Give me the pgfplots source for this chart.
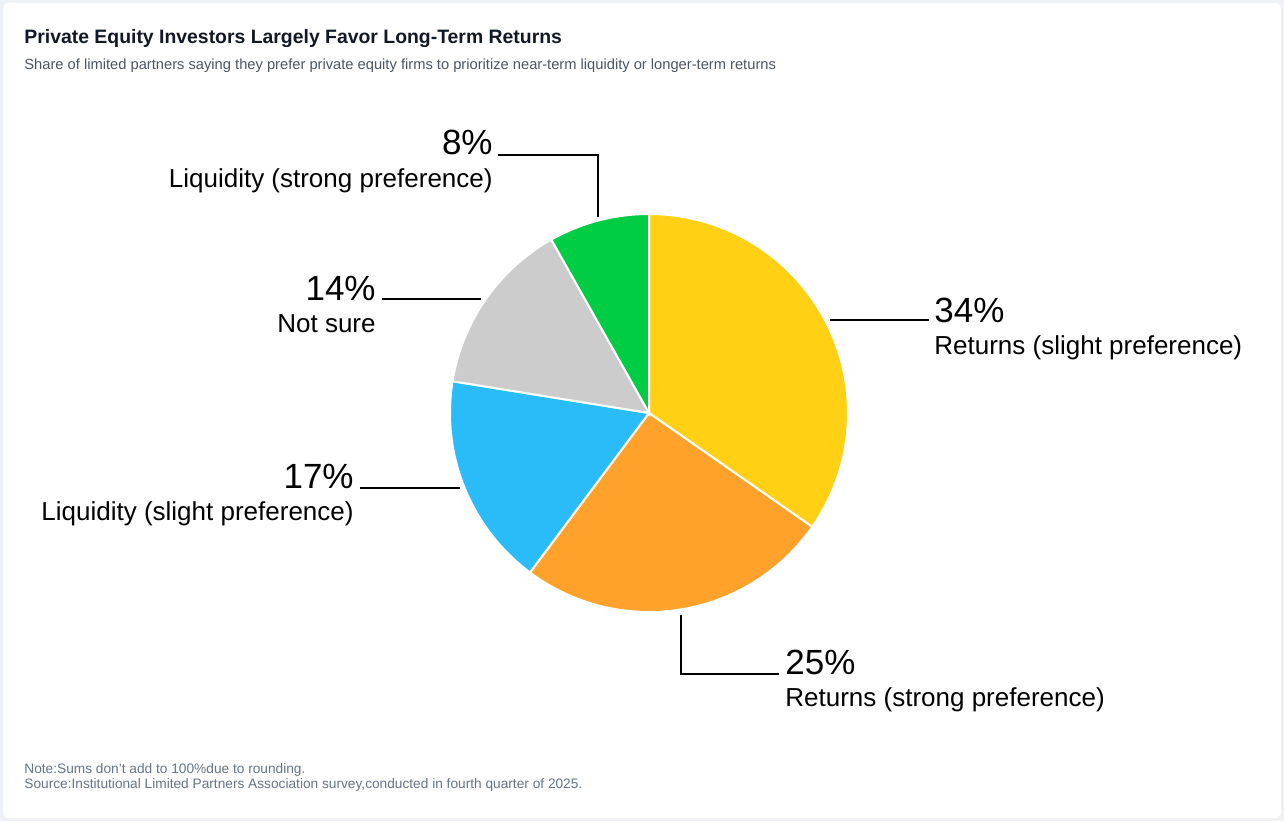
\documentclass[border=0pt]{standalone}
\usepackage{pgfplots}
\pgfplotsset{compat=1.18}
\usepackage{fontspec}
\setmainfont{Liberation Sans}
\definecolor{pieyellow}{HTML}{FFD013}
\definecolor{pieorange}{HTML}{FFA22B}
\definecolor{pieblue}{HTML}{29BCF8}
\definecolor{piegray}{HTML}{CCCCCC}
\definecolor{piegreen}{HTML}{00CC44}
\definecolor{titlec}{HTML}{111827}
\definecolor{subc}{HTML}{4B5563}
\definecolor{notec}{HTML}{64748B}
\definecolor{framec}{HTML}{EEF1F5}
% slice values (percent), clockwise from 12 o'clock
\def\vA{34}\def\vB{25}\def\vC{17}\def\vD{14}\def\vE{8}
\pgfmathsetmacro\tot{\vA+\vB+\vC+\vD+\vE}
\pgfmathsetmacro\aA{90}
\pgfmathsetmacro\aB{\aA-360*\vA/\tot}
\pgfmathsetmacro\aC{\aB-360*\vB/\tot}
\pgfmathsetmacro\aD{\aC-360*\vC/\tot}
\pgfmathsetmacro\aE{\aD-360*\vD/\tot}
\pgfmathsetmacro\aF{\aE-360*\vE/\tot}
\newcommand\pct{\fontsize{17.5}{20}\selectfont}
\newcommand\lab{\fontsize{13}{15}\selectfont}
\begin{document}
\begin{tikzpicture}
\begin{axis}[x=0.5pt, y=0.5pt, xmin=0, xmax=1284, ymin=0, ymax=821,
  hide axis, clip=false, anchor=origin, at={(0,0)}]
\fill[framec] (axis cs:0,0) rectangle (axis cs:1284,821);
\fill[white, rounded corners=3pt] (axis cs:3,3) rectangle (axis cs:1281,818);
% pie sectors
\addplot[fill=pieyellow, draw=white, line width=1pt, domain=\aB:\aA, samples=120]
  ({649+199*cos(x)}, {408+199*sin(x)}) -- (axis cs:649,408) -- cycle;
\addplot[fill=pieorange, draw=white, line width=1pt, domain=\aC:\aB, samples=100]
  ({649+199*cos(x)}, {408+199*sin(x)}) -- (axis cs:649,408) -- cycle;
\addplot[fill=pieblue, draw=white, line width=1pt, domain=\aD:\aC, samples=80]
  ({649+199*cos(x)}, {408+199*sin(x)}) -- (axis cs:649,408) -- cycle;
\addplot[fill=piegray, draw=white, line width=1pt, domain=\aE:\aD, samples=70]
  ({649+199*cos(x)}, {408+199*sin(x)}) -- (axis cs:649,408) -- cycle;
\addplot[fill=piegreen, draw=white, line width=1pt, domain=\aF:\aE, samples=50]
  ({649+199*cos(x)}, {408+199*sin(x)}) -- (axis cs:649,408) -- cycle;
% leader lines
\addplot[black, line width=1pt] coordinates {(830,501) (929,501)};
\addplot[black, line width=1pt] coordinates {(681,206) (681,147) (779,147)};
\addplot[black, line width=1pt] coordinates {(460,333) (360,333)};
\addplot[black, line width=1pt] coordinates {(481,522) (382,522)};
\addplot[black, line width=1pt] coordinates {(598,604) (598,666) (498,666)};
% labels
\node[anchor=base west, inner sep=0] at (axis cs:934,499) {\pct 34\%};
\node[anchor=base west, inner sep=0] at (axis cs:934,467) {\lab Returns (slight preference)};
\node[anchor=base west, inner sep=0] at (axis cs:785,147) {\pct 25\%};
\node[anchor=base west, inner sep=0] at (axis cs:785,115) {\lab Returns (strong preference)};
\node[anchor=base east, inner sep=0] at (axis cs:354,333) {\pct 17\%};
\node[anchor=base east, inner sep=0] at (axis cs:354,301) {\lab Liquidity (slight preference)};
\node[anchor=base east, inner sep=0] at (axis cs:376,521) {\pct 14\%};
\node[anchor=base east, inner sep=0] at (axis cs:376,489) {\lab Not sure};
\node[anchor=base east, inner sep=0] at (axis cs:493,666) {\pct 8\%};
\node[anchor=base east, inner sep=0] at (axis cs:493,633) {\lab Liquidity (strong preference)};
% title, subtitle, notes
\node[anchor=base west, inner sep=0, text=titlec] at (axis cs:24,777)
  {\fontsize{9.7}{11}\selectfont\bfseries Private Equity Investors Largely Favor Long-Term Returns};
\node[anchor=base west, inner sep=0, text=subc] at (axis cs:24,751)
  {\fontsize{7.35}{8.5}\selectfont Share of limited partners saying they prefer private equity firms to prioritize near-term liquidity or longer-term returns};
\node[anchor=base west, inner sep=0, text=notec] at (axis cs:24,48)
  {\fontsize{6.85}{8}\selectfont Note:Sums don't add to 100\%due to rounding.};
\node[anchor=base west, inner sep=0, text=notec] at (axis cs:24,33)
  {\fontsize{6.85}{8}\selectfont Source:Institutional Limited Partners Association survey,conducted in fourth quarter of 2025.};
\end{axis}
\end{tikzpicture}
\end{document}
